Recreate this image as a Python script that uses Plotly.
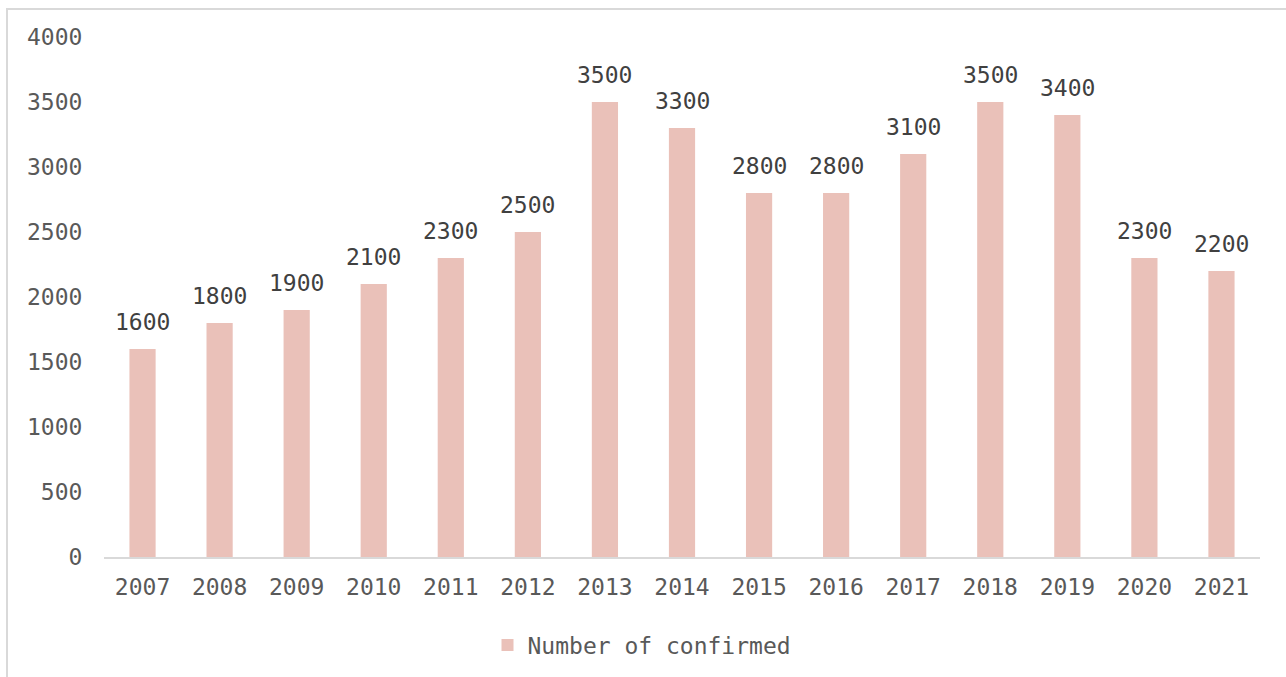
import plotly.graph_objects as go

# Yearly confirmed counts
years = ["2007", "2008", "2009", "2010", "2011", "2012", "2013", "2014",
         "2015", "2016", "2017", "2018", "2019", "2020", "2021"]
confirmed = [1600, 1800, 1900, 2100, 2300, 2500, 3500, 3300,
             2800, 2800, 3100, 3500, 3400, 2300, 2200]
y_ticks = [0, 500, 1000, 1500, 2000, 2500, 3000, 3500, 4000]

FONT = "DejaVu Sans Mono"
W, H = 1286, 677
L, R, T, B = 104, 26, 37, 120
plot_w = W - L - R
plot_h = H - T - B

fig = go.Figure()
fig.add_trace(go.Bar(
    x=years, y=confirmed, name="Number of confirmed",
    marker=dict(color="#EAC1B9", line=dict(width=0)),
))

# value labels above each bar (category index positions)
for i, v in enumerate(confirmed):
    fig.add_annotation(x=i, y=v, xref="x", yref="y", text=str(v),
                       showarrow=False, yanchor="bottom", yshift=12,
                       font=dict(family=FONT, size=23, color="#404040"))

# frame lines (left and top)
def px_x(p):
    return (p - L) / plot_w

def px_y(p):
    return (H - B - p) / plot_h

fig.add_shape(type="line", xref="paper", yref="paper",
              x0=px_x(7), x1=px_x(7), y0=px_y(8), y1=px_y(H + 5),
              line=dict(color="#D9D9D9", width=2))
fig.add_shape(type="line", xref="paper", yref="paper",
              x0=px_x(6), x1=px_x(W + 5), y0=px_y(9), y1=px_y(9),
              line=dict(color="#D9D9D9", width=2))

fig.update_layout(
    width=W, height=H,
    margin=dict(l=L, r=R, t=T, b=B, autoexpand=False),
    paper_bgcolor="white", plot_bgcolor="white",
    font=dict(family=FONT, size=23, color="#595959"),
    bargap=0.66,
    showlegend=True,
    legend=dict(orientation="h", x=px_x(642), xanchor="center",
                y=px_y(645), yanchor="middle",
                font=dict(family=FONT, size=23, color="#595959"),
                itemwidth=30),
    xaxis=dict(type="category", range=[-0.5, len(years) - 0.5],
               showline=True, linecolor="#D9D9D9",
               linewidth=2, showgrid=False, ticks="outside", ticklen=8,
               tickcolor="rgba(0,0,0,0)", tickfont=dict(size=23)),
    yaxis=dict(range=[0, 4000], tickvals=y_ticks, showgrid=False,
               showline=False, zeroline=False, ticks="outside", ticklen=16,
               tickcolor="rgba(0,0,0,0)", tickfont=dict(size=23)),
)

fig.write_html("out.html")
